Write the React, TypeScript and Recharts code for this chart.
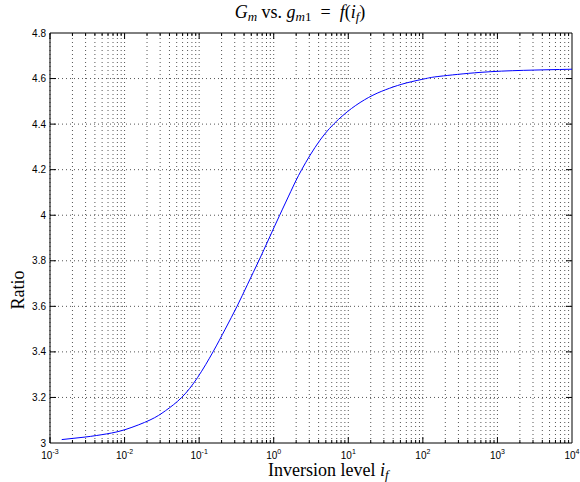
import { LineChart, Line, XAxis, YAxis, ReferenceLine } from "recharts";

// inversion level (log axis) and the ratio
const ifValues = [
  0.001436, 0.002944, 0.005754, 0.01045, 0.02193, 0.03548, 0.05834, 0.0955,
  0.1535, 0.2239, 0.3221, 0.4467, 0.631, 0.871, 1.202, 1.698, 2.371, 4.169,
  7.413, 12.59, 21.43, 35.48, 60.67, 109.6, 169.8, 583.4, 2223, 10000,
];
const ratioValues = [
  3.015, 3.026, 3.04, 3.06, 3.101, 3.142, 3.2, 3.288, 3.4, 3.5, 3.6, 3.697,
  3.8, 3.9, 4.0, 4.105, 4.2, 4.329, 4.421, 4.482, 4.527, 4.557, 4.581, 4.6,
  4.61, 4.627, 4.636, 4.641,
];

const xTicks = [1e-3, 1e-2, 1e-1, 1, 10, 100, 1000, 10000];
const yTicks = [3, 3.2, 3.4, 3.6, 3.8, 4, 4.2, 4.4, 4.6, 4.8];

const X_MIN = 1e-3;
const X_MAX = 1e4;
const Y_MIN = 3;
const Y_MAX = 4.8;

const data = ifValues.map((x, i) => ({ x, ratio: ratioValues[i] }));

// log minor positions: k * 10^n
const minorX: number[] = [];
for (let n = -3; n <= 3; n++) {
  for (let k = 1; k <= 9; k++) {
    minorX.push(Number((k * Math.pow(10, n)).toPrecision(3)));
  }
}

const GRID = "#555";
const FONT_SANS = "'Liberation Sans', Arial, sans-serif";
const FONT_SERIF = "'Liberation Serif', 'Times New Roman', serif";

// tick lengths in data units (6px major, 3px minor)
const yTickLen = 0.0263;
const yMinorLen = 0.0132;
const xTickFactor = 1.204;

const XTick = (props: any) => {
  const { x, y, payload } = props;
  const e = Math.round(Math.log10(payload.value));
  return (
    <text
      x={x}
      y={y + 16}
      textAnchor="middle"
      fontFamily={FONT_SANS}
      fontSize={10}
      fill="#000"
    >
      10
      <tspan dy={-5} fontSize={7}>
        {e}
      </tspan>
    </text>
  );
};

const YTick = (props: any) => {
  const { x, y, payload } = props;
  return (
    <text
      x={x - 4}
      y={y}
      dy={3.5}
      textAnchor="end"
      fontFamily={FONT_SANS}
      fontSize={10}
      fill="#000"
    >
      {String(Number(payload.value.toFixed(1)))}
    </text>
  );
};

export default function App() {
  const isMajor = (v: number) => xTicks.includes(v);

  return (
    <div style={{ position: "absolute", left: 0, top: 0, width: 580, height: 482, background: "#fff" }}>
      <LineChart
        width={580}
        height={482}
        data={data}
        margin={{ top: 33, right: 8, bottom: 0, left: 0 }}
      >
        <XAxis
          dataKey="x"
          type="number"
          scale="log"
          domain={[X_MIN, X_MAX]}
          ticks={xTicks}
          interval={0}
          allowDataOverflow
          height={39}
          tickLine={false}
          tickSize={0}
          tickMargin={0}
          axisLine={{ stroke: "#000" }}
          tick={<XTick />}
        />
        <YAxis
          type="number"
          domain={[Y_MIN, Y_MAX]}
          ticks={yTicks}
          interval={0}
          allowDataOverflow
          width={50}
          tickLine={false}
          tickSize={0}
          tickMargin={0}
          axisLine={{ stroke: "#000" }}
          tick={<YTick />}
        />

        {/* dotted grid */}
        {minorX.map((v) => (
          <ReferenceLine
            key={`gx-${v}`}
            x={v}
            stroke={GRID}
            strokeDasharray="1 3"
          />
        ))}
        {yTicks.slice(1, -1).map((v) => (
          <ReferenceLine
            key={`gy-${v}`}
            y={v}
            stroke={GRID}
            strokeDasharray="1 3"
          />
        ))}

        {/* inward ticks */}
        {minorX.map((v) => {
          const len = isMajor(v) ? yTickLen : yMinorLen;
          return [
            <ReferenceLine
              key={`tb-${v}`}
              segment={[
                { x: v, y: Y_MIN },
                { x: v, y: Y_MIN + len },
              ]}
              stroke="#000"
            />,
            <ReferenceLine
              key={`tt-${v}`}
              segment={[
                { x: v, y: Y_MAX },
                { x: v, y: Y_MAX - len },
              ]}
              stroke="#000"
            />,
          ];
        })}
        {yTicks.slice(1, -1).map((v) => [
          <ReferenceLine
            key={`tl-${v}`}
            segment={[
              { x: X_MIN, y: v },
              { x: X_MIN * xTickFactor, y: v },
            ]}
            stroke="#000"
          />,
          <ReferenceLine
            key={`tr-${v}`}
            segment={[
              { x: X_MAX, y: v },
              { x: X_MAX / xTickFactor, y: v },
            ]}
            stroke="#000"
          />,
        ])}

        {/* box */}
        <ReferenceLine y={Y_MAX} stroke="#000" />
        <ReferenceLine x={X_MAX} stroke="#000" />

        <Line
          dataKey="ratio"
          type="natural"
          stroke="#0000ff"
          strokeWidth={1}
          dot={false}
          isAnimationActive={false}
        />
      </LineChart>

      <svg
        width={580}
        height={482}
        style={{ position: "absolute", left: 0, top: 0, pointerEvents: "none" }}
      >
        <text
          x={300}
          y={18}
          textAnchor="middle"
          fontFamily={FONT_SERIF}
          fontSize={18}
          fill="#000"
          style={{ whiteSpace: "pre" }}
        >
          <tspan fontStyle="italic">G</tspan>
          <tspan fontStyle="italic" fontSize={13} dy={3}>m</tspan>
          <tspan dy={-3}>{" vs. "}</tspan>
          <tspan fontStyle="italic">g</tspan>
          <tspan fontStyle="italic" fontSize={13} dy={3}>m</tspan>
          <tspan fontSize={13}>1</tspan>
          <tspan dy={-3}>{"  =  "}</tspan>
          <tspan fontStyle="italic">f</tspan>
          <tspan>(</tspan>
          <tspan fontStyle="italic">i</tspan>
          <tspan fontStyle="italic" fontSize={13} dy={3}>f</tspan>
          <tspan dy={-3}>)</tspan>
        </text>

        <text
          x={268}
          y={476}
          fontFamily={FONT_SERIF}
          fontSize={18}
          fill="#000"
          style={{ whiteSpace: "pre" }}
        >
          <tspan>{"Inversion level "}</tspan>
          <tspan fontStyle="italic">i</tspan>
          <tspan fontStyle="italic" fontSize={13} dy={3}>f</tspan>
        </text>

        <text
          transform="translate(24, 290) rotate(-90)"
          textAnchor="middle"
          fontFamily={FONT_SERIF}
          fontSize={18}
          fill="#000"
        >
          Ratio
        </text>
      </svg>
    </div>
  );
}
